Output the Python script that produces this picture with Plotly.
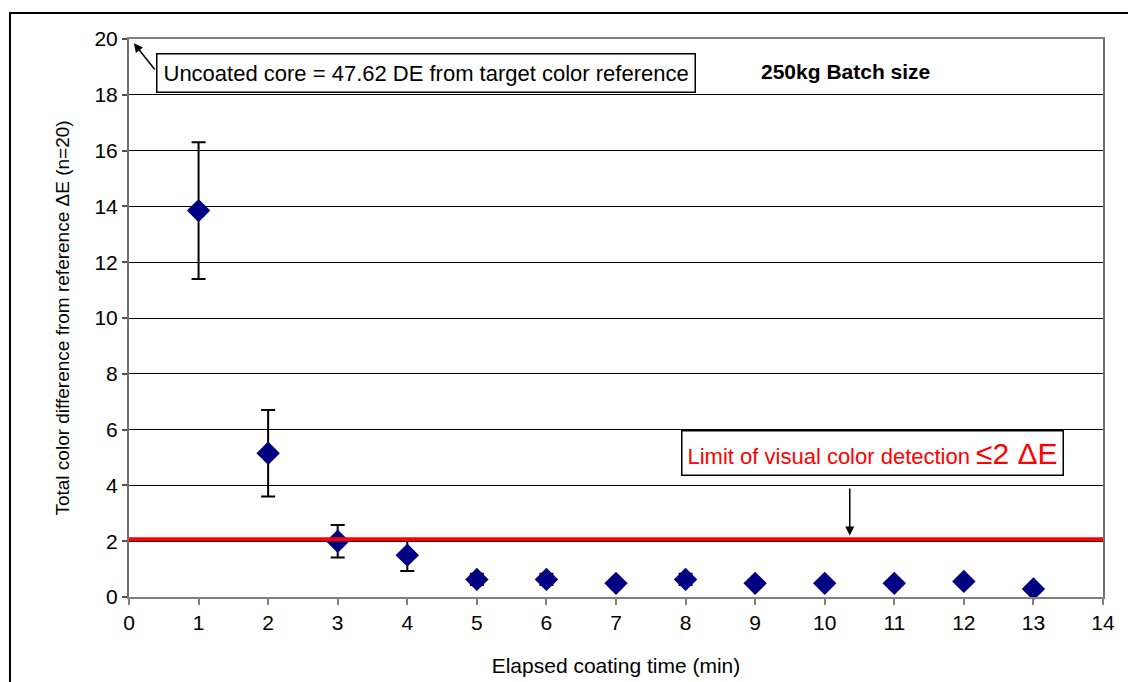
import plotly.graph_objects as go

# ---- data ----
time_min = [1, 2, 3, 4, 5, 6, 7, 8, 9, 10, 11, 12, 13]
delta_e = [13.85, 5.15, 2.0, 1.5, 0.63, 0.63, 0.49, 0.63, 0.49, 0.49, 0.49, 0.56, 0.29]
delta_e_err = [2.45, 1.55, 0.58, 0.57, 0.2, 0.2, 0.1, 0.2, 0.1, 0.1, 0.1, 0.12, 0.1]
limit_x = [0, 14]
limit_value = [2.07, 2.07]
x_ticks = list(range(0, 15))
y_ticks = list(range(0, 21, 2))

FONT = "Liberation Sans, Arial, sans-serif"

fig = go.Figure()

fig.add_trace(go.Scatter(
    x=time_min, y=delta_e, mode="markers",
    marker=dict(symbol="diamond", size=18, color="#000080",
                line=dict(width=0)),
    error_y=dict(type="data", array=delta_e_err, visible=True,
                 color="black", thickness=2, width=7),
    showlegend=False, cliponaxis=False,
))

fig.add_trace(go.Scatter(
    x=limit_x, y=limit_value, mode="lines",
    line=dict(color="#ff0000", width=4),
    showlegend=False, hoverinfo="skip",
))

# page has an 8px body margin; plot area lands at x 129..1103, y 39..597 on screen
fig.update_layout(
    width=1128, height=674,
    margin=dict(l=121, r=33, t=31, b=85, autoexpand=False),
    paper_bgcolor="white", plot_bgcolor="white",
    font=dict(family=FONT, size=21, color="black"),
    xaxis=dict(
        range=[0, 14], tickvals=x_ticks, ticks="outside", ticklen=6,
        tickcolor="#808080", tickwidth=1.5,
        showline=True, linecolor="#808080", linewidth=2, mirror=True,
        showgrid=False, zeroline=False,
        tickfont=dict(size=21, family=FONT),
        title=dict(text="Elapsed coating time (min)", standoff=25,
                   font=dict(size=21, family=FONT)),
    ),
    yaxis=dict(
        range=[0, 20], tickvals=y_ticks, ticks="outside", ticklen=5,
        tickcolor="#505050", tickwidth=1.5,
        showline=True, linecolor="#707070", linewidth=2, mirror=True,
        showgrid=True, gridcolor="black", gridwidth=1,
        zeroline=False,
        tickfont=dict(size=21, family=FONT),
        title=dict(text="Total color difference from reference ΔE (n=20)",
                   standoff=20, font=dict(size=19, family=FONT)),
    ),
    shapes=[
        dict(type="rect", xref="paper", yref="paper",
             x0=-0.1222, x1=1.2, y0=-0.3, y1=1.0466,
             line=dict(color="black", width=2), fillcolor="rgba(0,0,0,0)",
             layer="below"),
    ],
    annotations=[
        # Uncoated core box
        dict(x=0.388, y=18.78, xref="x", yref="y", xanchor="left", yanchor="middle",
             text="Uncoated core = 47.62 DE from target color reference",
             showarrow=False, font=dict(size=22, family=FONT, color="black"),
             bgcolor="white", bordercolor="black", borderwidth=1.5, borderpad=6),
        # arrow to top-left
        dict(x=0.07, y=19.85, xref="x", yref="y",
             ax=0.388, ay=18.85, axref="x", ayref="y",
             text="", showarrow=True, arrowhead=2, arrowsize=1.2,
             arrowwidth=1.5, arrowcolor="black"),
        # batch size
        dict(x=10.3, y=18.82, xref="x", yref="y",
             text="<b>250kg Batch size</b>", showarrow=False,
             font=dict(size=21, family=FONT, color="black")),
        # limit box
        dict(x=10.69, y=5.16, xref="x", yref="y",
             text="Limit of visual color detection <span style='font-size:30px'>≤2 ΔE</span>",
             showarrow=False, font=dict(size=22, family=FONT, color="#ff0000"),
             bgcolor="white", bordercolor="black", borderwidth=1.5, borderpad=5),
        # arrow down to limit line
        dict(x=10.36, y=2.2, xref="x", yref="y",
             ax=10.36, ay=3.94, axref="x", ayref="y",
             text="", showarrow=True, arrowhead=2, arrowsize=1.2,
             arrowwidth=1.5, arrowcolor="black"),
    ],
)

fig.write_html("out.html")
